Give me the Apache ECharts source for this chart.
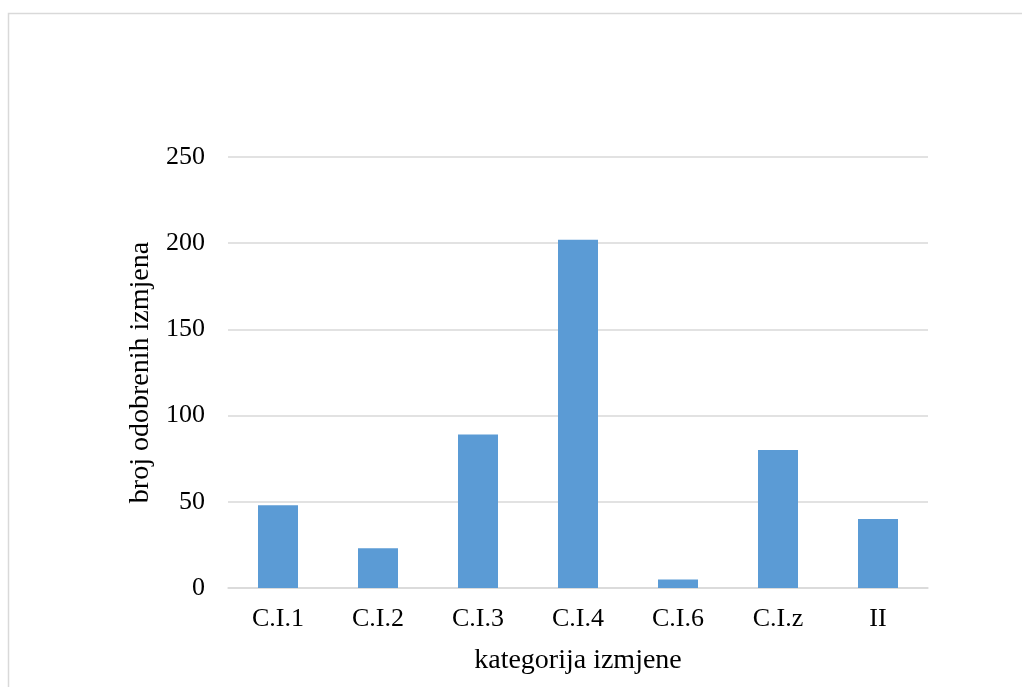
<!DOCTYPE html>
<html>
<head>
<meta charset="utf-8">
<style>
html,body{margin:0;padding:0;background:#fff;}
#chart{width:1022px;height:687px;}
</style>
<script src="https://cdn.jsdelivr.net/npm/echarts@6/dist/echarts.min.js"></script>
</head>
<body>
<div id="chart"></div>
<script>
const categories = ['C.I.1', 'C.I.2', 'C.I.3', 'C.I.4', 'C.I.6', 'C.I.z', 'II'];
const values = [48, 23, 89, 202, 5, 80, 40];
const yTicks = [0, 50, 100, 150, 200, 250];
const xTitle = 'kategorija izmjene';
const yTitle = 'broj odobrenih izmjena';

const font = '"Liberation Serif", "Times New Roman", serif';
const chart = echarts.init(document.getElementById('chart'), null, {renderer: 'canvas'});
chart.setOption({
  animation: false,
  backgroundColor: '#fff',
  graphic: [{
    type: 'rect',
    shape: {x: 8.5, y: 13.5, width: 1100, height: 800},
    style: {fill: 'none', stroke: '#d9d9d9', lineWidth: 1.5},
    silent: true
  }],
  grid: {left: 228, right: 94, top: 157, bottom: 99, containLabel: false},
  xAxis: {
    type: 'category',
    data: categories,
    name: xTitle,
    nameLocation: 'middle',
    nameGap: 59,
    nameTextStyle: {fontFamily: font, fontSize: 28, color: '#000'},
    axisLine: {lineStyle: {color: '#d9d9d9', width: 1.5}},
    axisTick: {show: false},
    axisLabel: {fontFamily: font, fontSize: 26, color: '#000', margin: 18}
  },
  yAxis: {
    type: 'value',
    min: yTicks[0],
    max: yTicks[yTicks.length - 1],
    interval: yTicks[1] - yTicks[0],
    name: yTitle,
    nameLocation: 'middle',
    nameGap: 66,
    nameRotate: 90,
    nameTextStyle: {fontFamily: font, fontSize: 28, color: '#000'},
    axisLine: {show: false},
    axisTick: {show: false},
    splitLine: {lineStyle: {color: '#d9d9d9', width: 1.5}},
    axisLabel: {fontFamily: font, fontSize: 26, color: '#000', margin: 23}
  },
  series: [{
    type: 'bar',
    data: values,
    barWidth: '40%',
    itemStyle: {color: '#5B9BD5'}
  }]
});
</script>
</body>
</html>
